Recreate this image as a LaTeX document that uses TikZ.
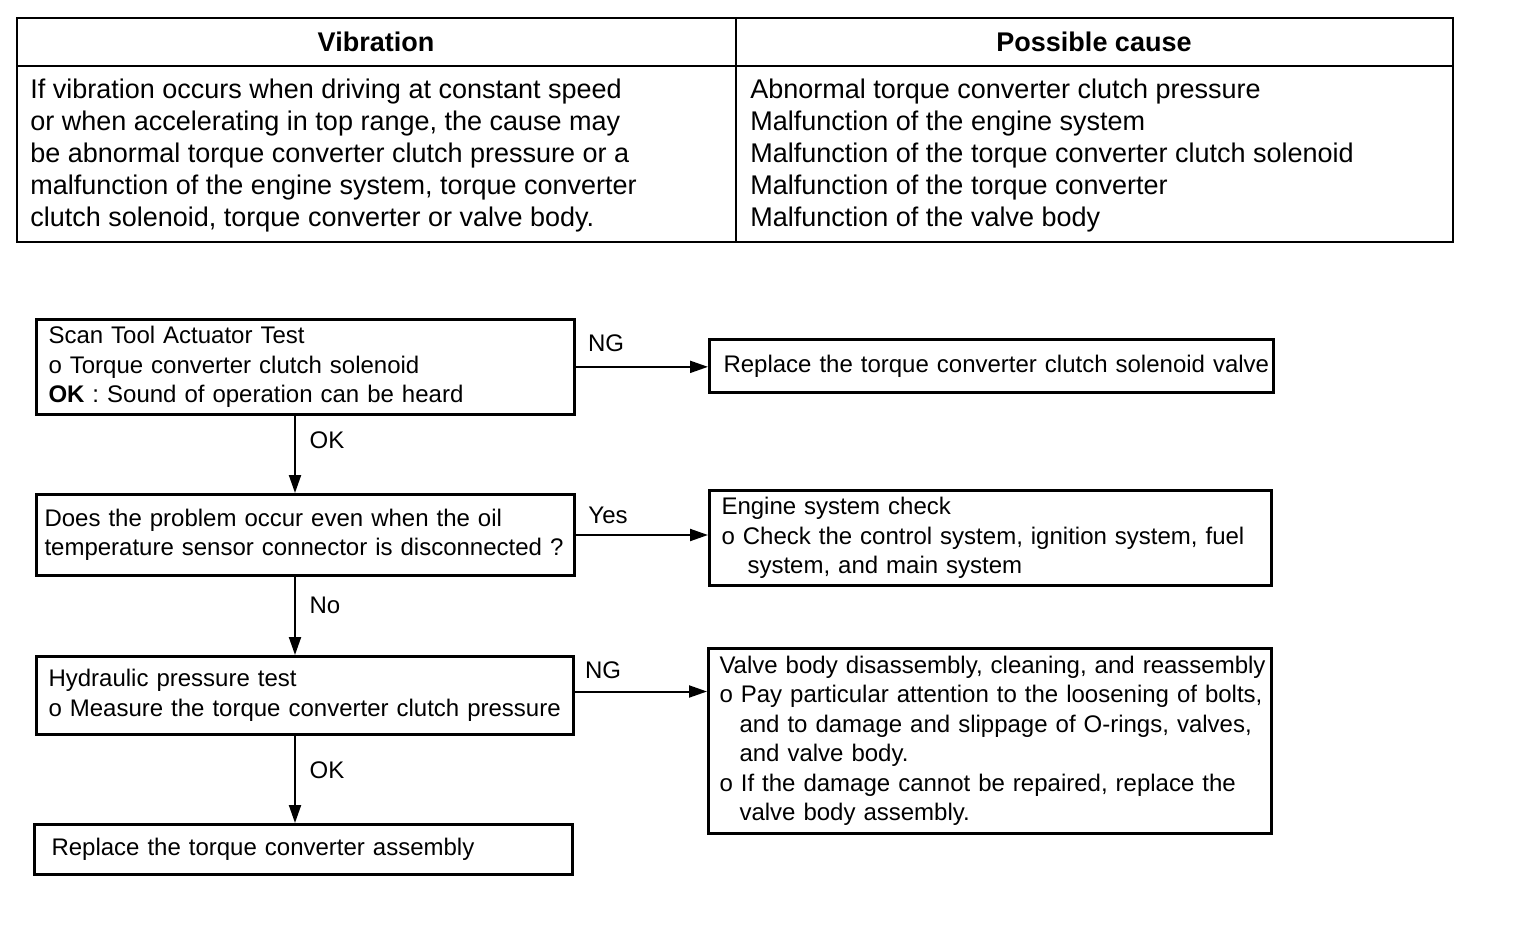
\documentclass[tikz,border=0pt]{standalone}
\usepackage{fontspec}
\setmainfont{Liberation Sans}
\usetikzlibrary{arrows.meta}

\tikzset{
  box/.style={draw, line width=1.5pt, anchor=north west, align=left, inner xsep=0pt,
    font=\fontsize{12}{14.75}\selectfont},
  lead/.style={execute at begin node={\leftskip=#1\relax\hyphenpenalty=10000\relax}},
  arr/.style={line width=1pt, -{Triangle[length=9pt,width=6pt]}},
  lbl/.style={font=\fontsize{12}{14}\selectfont, inner sep=0pt},
  cell/.style={font=\fontsize{13.5}{16}\selectfont, align=left, anchor=west, inner sep=0pt}
}

\begin{document}
\begin{tikzpicture}[x=0.5pt, y=-0.5pt]
    \useasboundingbox (0,0) rectangle (1520,926);
    \fill[white] (0,0) rectangle (1520,926);

    % table
    \draw[line width=1pt] (17,18) rectangle (1453,242);
    \draw[line width=0.8pt] (17,66) -- (1453,66);
    \draw[line width=1pt] (736,18) -- (736,242);
    \node[font=\fontsize{13.5}{16}\selectfont\bfseries] (hvib) at (376,42) {Vibration};
    \node[font=\fontsize{13.5}{16}\selectfont\bfseries] (hcause) at (1094,42) {Possible cause};
    \node[cell] (vib) at (30,156) {If vibration occurs when driving at constant speed\\
        or when accelerating in top range, the cause may\\
        be abnormal torque converter clutch pressure or a\\
        malfunction of the engine system, torque converter\\
        clutch solenoid, torque converter or valve body.};
    \node[cell] (cause) at (750,156) {Abnormal torque converter clutch pressure\\
        Malfunction of the engine system\\
        Malfunction of the torque converter clutch solenoid\\
        Malfunction of the torque converter\\
        Malfunction of the valve body};

    % flow chart
    \coordinate (spine) at (295,0);
    \node[box, lead=6pt, minimum height=45pt, text width=269pt] (scan) at (35,318)
        {Scan Tool Actuator Test\\ o Torque converter clutch solenoid\\ \textbf{OK} : Sound of operation can be heard};
    \node[box, lead=7pt, minimum height=26.5pt, text width=282pt] (solv) at (708,338)
        {Replace the torque converter clutch solenoid valve};
    \node[box, lead=4pt, minimum height=40.5pt, text width=269pt] (oil) at (35,493)
        {Does the problem occur even when the oil\\ temperature sensor connector is disconnected ?};
    \node[box, lead=6pt, minimum height=46pt, text width=281pt] (eng) at (708,489)
        {Engine system check\\ o Check the control system, ignition system, fuel\\ \hspace*{13pt}system, and main system};
    \node[box, lead=6pt, minimum height=39pt, text width=268.5pt] (hyd) at (35,655)
        {Hydraulic pressure test\\ o Measure the torque converter clutch pressure};
    \node[box, lead=5.5pt, minimum height=92.5pt, text width=281.5pt] (valve) at (707,647)
        {Valve body disassembly, cleaning, and reassembly\\
         o Pay particular attention to the loosening of bolts,\\
         \hspace*{10pt}and to damage and slippage of O-rings, valves,\\
         \hspace*{10pt}and valve body.\\
         o If the damage cannot be repaired, replace the\\
         \hspace*{10pt}valve body assembly.};
    \node[box, lead=8.5pt, minimum height=25pt, text width=269pt] (conv) at (33,823)
        {Replace the torque converter assembly};

    \draw[arr] (scan.east) -- (scan.east -| solv.west);
    \draw[arr] (oil.east) -- (oil.east -| eng.west);
    \draw[arr] ([yshift=2pt]hyd.east) -- ([yshift=2pt]hyd.east -| valve.west);
    \draw[arr] (scan.south -| spine) -- (oil.north -| spine);
    \draw[arr] (oil.south -| spine) -- (hyd.north -| spine);
    \draw[arr] (hyd.south -| spine) -- (conv.north -| spine);

    \node[lbl] (ng1) at (606,343) {NG};
    \node[lbl] (ok1) at (327,440) {OK};
    \node[lbl] (yes) at (608,515) {Yes};
    \node[lbl] (no) at (325,605) {No};
    \node[lbl] (ng2) at (603,670) {NG};
    \node[lbl] (ok2) at (327,770) {OK};
\end{tikzpicture}
\end{document}
